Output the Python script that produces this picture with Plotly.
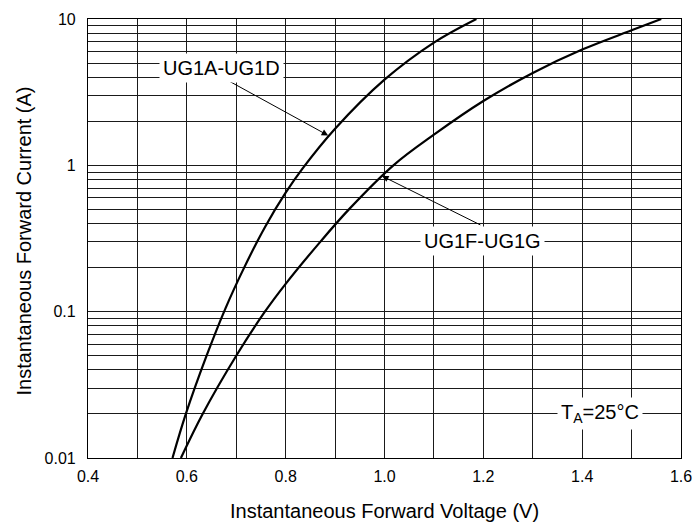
import numpy as np
import plotly.graph_objects as go

# Curve UG1A-UG1D
va = [0.571, 0.598, 0.640, 0.678, 0.716, 0.758, 0.800, 0.834, 0.900, 1.000, 1.100, 1.186]
ia = [0.01, 0.02, 0.05, 0.105, 0.20, 0.378, 0.65, 0.95, 1.78, 3.85, 6.9, 10]

# Curve UG1F-UG1G
vb = [0.588, 0.632, 0.700, 0.758, 0.800, 0.870, 0.928, 1.018, 1.100, 1.200, 1.300,
      1.400, 1.500, 1.560]
ib = [0.01, 0.02, 0.05, 0.10, 0.155, 0.30, 0.50, 1.00, 1.62, 2.75, 4.28,
      6.18, 8.37, 10]

x_ticks = [0.4, 0.6, 0.8, 1.0, 1.2, 1.4, 1.6]
x_ticktext = ["0.4", "0.6", "0.8", "1.0", "1.2", "1.4", "1.6"]
x_minor = [round(0.4 + 0.1 * k, 1) for k in range(13)]
y_ticks = [0.01, 0.1, 1, 10]
y_ticktext = ["0.01", "0.1", "1", "10"]
y_minor = [m * 10.0 ** e for e in (-2, -1, 0) for m in range(2, 10)]

x_title = "Instantaneous Forward Voltage (V)"
y_title = "Instantaneous Forward Current (A)"

# labels: text, x, y
labels = [
    ("UG1A-UG1D", 0.671, 4.6),
    ("UG1F-UG1G", 1.198, 0.302),
    ("T<sub>A</sub>=25°C", 1.437, 0.02),
]
# arrows: tip x, tip y, tail x, tail y
arrows = [
    (0.886, 1.60, 0.676, 3.92),
    (0.995, 0.845, 1.197, 0.387),
]

FONT = "Arial, Liberation Sans, sans-serif"

fig = go.Figure()
for v, i in ((va, ia), (vb, ib)):
    fig.add_trace(go.Scatter(x=v, y=i, mode="lines",
                             line=dict(color="black", width=2.2, shape="spline", smoothing=1.0),
                             showlegend=False, hoverinfo="skip"))

for tx, ty, ax, ay in arrows:
    fig.add_annotation(x=tx, y=np.log10(ty), ax=ax, ay=np.log10(ay), xref="x", yref="y",
                       axref="x", ayref="y", text="", showarrow=True, arrowhead=2,
                       arrowsize=1.3, arrowwidth=1, arrowcolor="black")

for t, x, y in labels:
    fig.add_annotation(x=x, y=np.log10(y), xref="x", yref="y", text=t, showarrow=False,
                       bgcolor="white", borderpad=3,
                       font=dict(family=FONT, size=20, color="black"))

# axis titles
fig.add_annotation(x=0.5, y=0, xref="paper", yref="paper", text=x_title, showarrow=False,
                   yanchor="middle", yshift=-53, font=dict(family=FONT, size=20, color="black"))
fig.add_annotation(x=0, y=0.5, xref="paper", yref="paper", text=y_title, showarrow=False,
                   textangle=-90, xanchor="center", xshift=-65, yshift=-3,
                   font=dict(family=FONT, size=20, color="black"))

grid = "#1a1a1a"
fig.update_xaxes(range=[0.4, 1.6], tickvals=x_ticks, ticktext=x_ticktext, automargin=False,
                 showgrid=True, gridcolor=grid, gridwidth=1.2,
                 minor=dict(tickvals=x_minor, showgrid=True, gridcolor=grid, gridwidth=1.2),
                 showline=True, linecolor="black", linewidth=1.2, mirror=True,
                 zeroline=False, ticks="", ticklabelstandoff=4,
                 tickfont=dict(family=FONT, size=16, color="black"))
fig.update_yaxes(type="log", range=[-2, 1], tickvals=y_ticks, ticktext=y_ticktext,
                 automargin=False,
                 showgrid=True, gridcolor=grid, gridwidth=1.2,
                 minor=dict(tickvals=y_minor, showgrid=True, gridcolor=grid, gridwidth=1.2),
                 showline=True, linecolor="black", linewidth=1.2, mirror=True,
                 zeroline=False, ticks="", ticklabelstandoff=8,
                 tickfont=dict(family=FONT, size=16, color="black"))

fig.update_layout(width=695, height=524, margin=dict(l=88, r=14, t=19, b=66),
                  plot_bgcolor="white", paper_bgcolor="white")
fig.write_html("out.html", config={"displayModeBar": False},
               post_script="document.body.style.margin='0';")
